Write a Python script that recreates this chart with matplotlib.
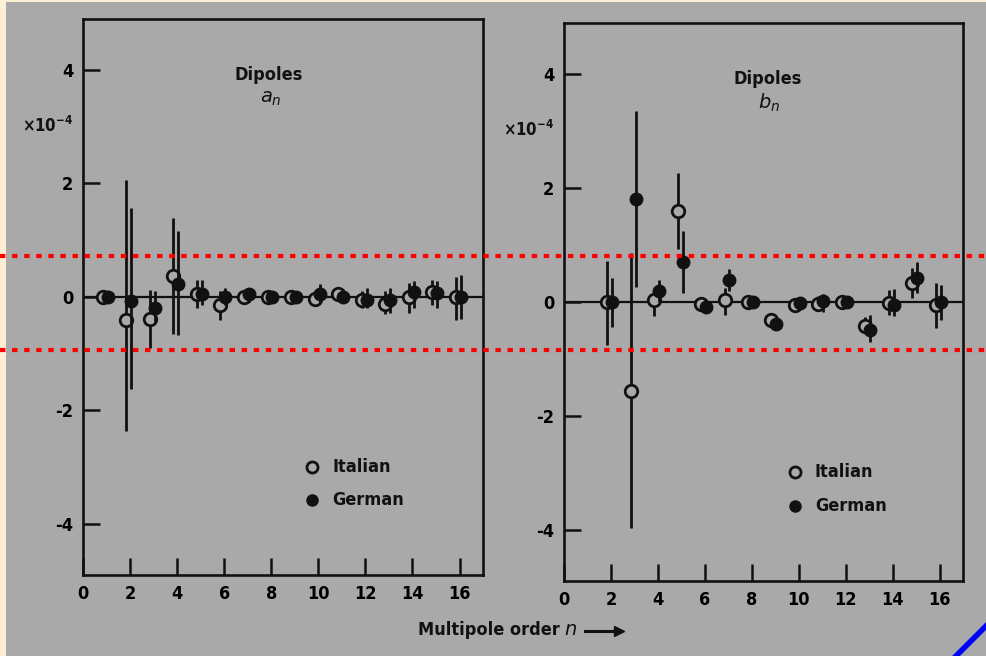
import matplotlib
matplotlib.use('Agg')
import matplotlib.pyplot as plt
from matplotlib import font_manager
from matplotlib.lines import Line2D
from matplotlib.patches import Rectangle

# multipole order
n_a = [1, 2, 3, 4, 5, 6, 7, 8, 9, 10, 11, 12, 13, 14, 15, 16]
n_b = [2, 3, 4, 5, 6, 7, 8, 9, 10, 11, 12, 13, 14, 15, 16]

# a_n, Italian (value, lower end, upper end of error bar)
a_it = [0.0, -0.41, -0.38, 0.37, 0.06, -0.15, 0.0, 0.0, 0.0, -0.03, 0.06, -0.05, -0.12, 0.0, 0.08, 0.0]
a_it_lo = [0.0, -2.36, -0.90, -0.66, -0.20, -0.41, -0.12, -0.10, -0.08, -0.15, -0.05, -0.20, -0.30, -0.28, -0.15, -0.40]
a_it_hi = [0.0, 2.07, 0.13, 1.39, 0.30, 0.10, 0.10, 0.10, 0.08, 0.10, 0.15, 0.10, 0.10, 0.25, 0.30, 0.35]
# a_n, German
a_ge = [0.0, -0.07, -0.19, 0.23, 0.05, 0.0, 0.05, 0.0, 0.0, 0.05, 0.0, -0.06, -0.05, 0.08, 0.07, 0.0]
a_ge_lo = [0.0, -1.63, -0.45, -0.67, -0.15, -0.15, -0.08, -0.10, -0.10, -0.10, -0.10, -0.20, -0.28, -0.20, -0.20, -0.38]
a_ge_hi = [0.0, 1.56, 0.10, 1.16, 0.30, 0.15, 0.15, 0.10, 0.10, 0.22, 0.10, 0.15, 0.15, 0.28, 0.28, 0.38]

# b_n, Italian
b_it = [0.0, -1.56, 0.03, 1.59, -0.03, 0.04, 0.0, -0.31, -0.05, -0.03, 0.0, -0.42, -0.01, 0.34, -0.06]
b_it_lo = [-0.75, -3.97, -0.24, 0.93, -0.03, -0.22, 0.0, -0.31, -0.05, -0.15, 0.0, -0.55, -0.22, 0.07, -0.45]
b_it_hi = [0.72, 0.86, 0.18, 2.26, -0.03, 0.24, 0.0, -0.31, -0.05, 0.11, 0.0, -0.27, 0.21, 0.59, 0.34]
# b_n, German
b_ge = [0.0, 1.81, 0.19, 0.70, -0.09, 0.39, 0.0, -0.39, -0.01, 0.01, 0.0, -0.50, -0.05, 0.42, 0.0]
b_ge_lo = [-0.43, 0.26, 0.0, 0.15, -0.09, 0.19, 0.0, -0.39, -0.01, -0.17, 0.0, -0.71, -0.25, 0.15, -0.31]
b_ge_hi = [0.43, 3.36, 0.38, 1.24, -0.09, 0.58, 0.0, -0.39, -0.01, 0.14, 0.0, -0.23, 0.22, 0.70, 0.30]

GRAY = '#a9a9a9'
INK = '#111111'

names = set(f.name for f in font_manager.fontManager.ttflist)
if 'Liberation Sans Narrow' in names:
	FONT = dict(family='Liberation Sans Narrow', weight='bold')
else:
	FONT = dict(family='DejaVu Sans', stretch='condensed', weight='bold')

plt.rcParams['axes.unicode_minus'] = False
plt.rcParams['mathtext.fontset'] = 'dejavusans'

fig = plt.figure(figsize=(9.86, 6.56), dpi=100, facecolor='#fcefd3')
fig.patches.append(Rectangle((6 / 986, 0), 1, 1 - 2 / 656, transform=fig.transFigure,
	facecolor=GRAY, edgecolor='none', zorder=-10))

ax1 = fig.add_axes([0.0842, 0.1235, 0.4057, 0.8476])
ax2 = fig.add_axes([0.572, 0.1143, 0.4047, 0.8506])

def draw_panel(ax, n, it, it_lo, it_hi, ge, ge_lo, ge_hi, letter, title_x, leg_x, leg_y):
	ax.set_facecolor('none')
	ax.axhline(0, color=INK, lw=1.6, zorder=1)
	x_it = [v - 0.16 for v in n]
	x_ge = [v + 0.05 for v in n]
	err_it = [[v - lo for v, lo in zip(it, it_lo)], [hi - v for v, hi in zip(it, it_hi)]]
	err_ge = [[v - lo for v, lo in zip(ge, ge_lo)], [hi - v for v, hi in zip(ge, ge_hi)]]
	ax.errorbar(x_it, it, yerr=err_it, fmt='o', ms=9, mfc=GRAY, mec=INK, mew=2,
		ecolor=INK, elinewidth=2, capsize=0, zorder=3)
	ax.errorbar(x_ge, ge, yerr=err_ge, fmt='o', ms=9, mfc=INK, mec=INK, mew=1,
		ecolor=INK, elinewidth=2, capsize=0, zorder=4)
	ax.set_xlim(0, 17)
	ax.set_ylim(-4.9, 4.9)
	ax.set_xticks(range(0, 17, 2))
	ax.set_yticks([-4, -2, 0, 2, 4])
	ax.tick_params(direction='in', length=12, width=1.8, color=INK, pad=7, labelsize=13)
	for lab in ax.get_xticklabels() + ax.get_yticklabels():
		lab.set(**FONT)
	for sp in ax.spines.values():
		sp.set_linewidth(1.9)
		sp.set_color(INK)
	ax.text(-0.025, 0.808, r'×$\mathregular{10^{-4}}$', transform=ax.transAxes,
		ha='right', va='center', fontsize=12, color=INK, **FONT)
	ax.text(title_x, 0.9, 'Dipoles', transform=ax.transAxes, ha='center', va='center',
		fontsize=13, color=INK, **FONT)
	ax.text(title_x + 0.005, 0.857, '$' + letter + '_n$', transform=ax.transAxes,
		ha='center', va='center', fontsize=14, color=INK)
	# legend
	ax.plot([leg_x], [leg_y], 'o', ms=8, mfc=GRAY, mec=INK, mew=2, transform=ax.transAxes, clip_on=False)
	ax.plot([leg_x], [leg_y - 0.06], 'o', ms=8, mfc=INK, mec=INK, transform=ax.transAxes, clip_on=False)
	ax.text(leg_x + 0.05, leg_y, 'Italian', transform=ax.transAxes, ha='left', va='center',
		fontsize=13, color=INK, **FONT)
	ax.text(leg_x + 0.05, leg_y - 0.06, 'German', transform=ax.transAxes, ha='left', va='center',
		fontsize=13, color=INK, **FONT)

draw_panel(ax1, n_a, a_it, a_it_lo, a_it_hi, a_ge, a_ge_lo, a_ge_hi, 'a', 0.465, 0.5725, 0.194)
draw_panel(ax2, n_b, b_it, b_it_lo, b_it_hi, b_ge, b_ge_lo, b_ge_hi, 'b', 0.51, 0.579, 0.195)

# axis title under both panels
fig.text(0.424, 0.04, 'Multipole order', ha='left', va='center', fontsize=13, color=INK, **FONT)
fig.text(0.572, 0.04, '$n$', ha='left', va='center', fontsize=14, color=INK)
fig.add_artist(Line2D([0.593, 0.625], [0.038, 0.038], transform=fig.transFigure, color=INK, lw=2.2))
fig.add_artist(Line2D([0.628], [0.038], transform=fig.transFigure, marker='>', ms=7, color=INK))

# red dotted guide lines and blue corner stroke
for yy in [1 - 256 / 656, 1 - 350 / 656]:
	fig.add_artist(Line2D([0, 1], [yy, yy], transform=fig.transFigure, color='red',
		lw=3, ls=(0, (1.3, 1.6)), dash_capstyle='butt'))
fig.add_artist(Line2D([956 / 986, 1.0], [0.0, 1 - 626 / 656], transform=fig.transFigure,
	color='blue', lw=4))

fig.savefig('out.png', dpi=100, facecolor=fig.get_facecolor())
